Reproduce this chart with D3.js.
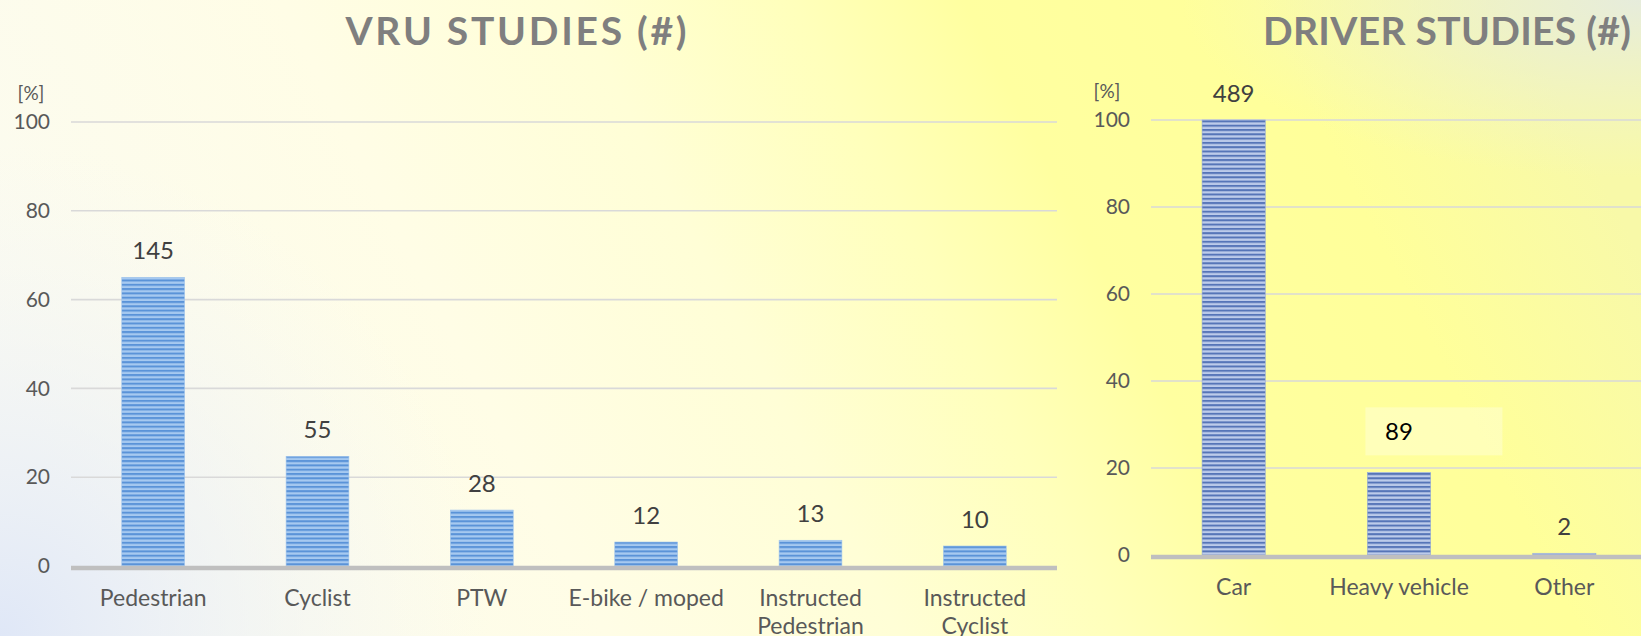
<!DOCTYPE html>
<html>
<head>
<meta charset="utf-8">
<script src="https://cdn.jsdelivr.net/npm/d3@7"></script>
<style>
  html, body { margin: 0; padding: 0; overflow: hidden; }
  svg { display: block; font-family: Lato, "Open Sans", sans-serif; }
</style>
</head>
<body>
<div id="chart"></div>
<script>
// chart values (percent of studies, with the count written above each bar)
const vruCategories = ['Pedestrian', 'Cyclist', 'PTW', 'E-bike / moped', 'Instructed\nPedestrian', 'Instructed\nCyclist']
const vruPercent = [65, 24.7, 12.6, 5.4, 5.8, 4.5]
const vruCounts = [145, 55, 28, 12, 13, 10]

const driverCategories = ['Car', 'Heavy vehicle', 'Other']
const driverPercent = [100, 19, 0.4]
const driverCounts = [489, 89, 2]

const yTicks = [0, 20, 40, 60, 80, 100]

const width = 1641
const height = 636

const svg = d3.select('#chart')
  .append('svg')
    .attr('width', width)
    .attr('height', height)

const defs = svg.append('defs')

// background gradients
const bgLin = defs.append('linearGradient')
    .attr('id', 'bgLin')
    .attr('x1', 0).attr('y1', 0.6).attr('x2', 1).attr('y2', 0.4)
bgLin.selectAll('stop')
  .data([
    ['0%', '#fbfbf1'], ['28%', '#fffde6'], ['45%', '#fffed6'],
    ['58%', '#ffffbb'], ['68%', '#ffffa0'], ['85%', '#ffff9a'], ['100%', '#f8f9a8']
  ])
  .enter().append('stop')
    .attr('offset', d => d[0])
    .attr('stop-color', d => d[1])

const bgBlue = defs.append('radialGradient')
    .attr('id', 'bgBlue')
    .attr('cx', 0).attr('cy', 1).attr('r', 0.3)
    .attr('gradientTransform', 'scale(1, 2.58) translate(0, -0.6124)')
bgBlue.append('stop').attr('offset', '0%').attr('stop-color', '#dfe7f7').attr('stop-opacity', 1)
bgBlue.append('stop').attr('offset', '100%').attr('stop-color', '#f4f6f8').attr('stop-opacity', 0)

const bgCorner = defs.append('radialGradient')
    .attr('id', 'bgCorner')
    .attr('cx', 1).attr('cy', 0).attr('r', 0.28)
bgCorner.append('stop').attr('offset', '0%').attr('stop-color', '#e6ecdc').attr('stop-opacity', 1)
bgCorner.append('stop').attr('offset', '100%').attr('stop-color', '#eef2d0').attr('stop-opacity', 0)

svg.append('rect').attr('width', width).attr('height', height).attr('fill', 'url(#bgLin)')
svg.append('rect').attr('width', width).attr('height', height).attr('fill', 'url(#bgBlue)')
svg.append('rect').attr('width', width).attr('height', height).attr('fill', 'url(#bgCorner)')

// striped bar fills
function stripes(id, dark, light) {
  const p = defs.append('pattern')
      .attr('id', id)
      .attr('patternUnits', 'userSpaceOnUse')
      .attr('width', 8).attr('height', 4.3)
  p.append('rect').attr('width', 8).attr('height', 4.3).attr('fill', light)
  p.append('rect').attr('width', 8).attr('height', 2).attr('fill', dark)
}
stripes('vruStripe', '#5a93d8', '#a6c9f0')
stripes('drvStripe', '#5675b8', '#bccbea')

function drawChart(cfg) {
  const x = d3.scaleBand()
      .domain(cfg.categories)
      .range(cfg.xRange)
      .paddingInner(0.618)
      .paddingOuter(0.309)

  const y = d3.scaleLinear()
      .domain([0, 100])
      .range(cfg.yRange)

  const g = svg.append('g')

  // gridlines
  g.append('g')
    .selectAll('line')
    .data(yTicks.filter(d => d > 0))
    .enter()
    .append('line')
      .attr('x1', cfg.xRange[0])
      .attr('x2', cfg.gridEnd)
      .attr('y1', d => y(d))
      .attr('y2', d => y(d))
      .attr('stroke', '#d9d9d9')
      .attr('stroke-width', 1.6)

  // y axis labels (no axis line, just the numbers)
  const yAxis = d3.axisLeft(y).tickValues(yTicks).tickSize(0).tickPadding(0)
  const ya = g.append('g')
      .attr('transform', `translate(${cfg.tickRight},0)`)
      .call(yAxis)
  ya.select('.domain').remove()
  ya.selectAll('text')
      .attr('fill', '#595959')
      .style('font-size', '21px')
      .style('font-family', 'Lato, sans-serif')

  g.append('text')
    .attr('x', cfg.unitX)
    .attr('y', cfg.yRange[1] - 22)
    .attr('text-anchor', 'middle')
    .attr('fill', '#595959')
    .style('font-size', '19px')
    .text('[%]')

  // bars
  g.append('g')
    .selectAll('rect')
    .data(cfg.values)
    .enter()
    .append('rect')
      .attr('x', (d, i) => x(cfg.categories[i]))
      .attr('y', d => y(d))
      .attr('width', x.bandwidth())
      .attr('height', d => y(0) - y(d))
      .attr('fill', `url(#${cfg.stripe})`)
      .attr('stroke', cfg.edge)
      .attr('stroke-width', 0.6)

  // baseline
  g.append('line')
    .attr('x1', cfg.xRange[0])
    .attr('x2', cfg.gridEnd)
    .attr('y1', y(0) + 2)
    .attr('y2', y(0) + 2)
    .attr('stroke', '#bfbfbf')
    .attr('stroke-width', 4.5)

  // count labels
  g.append('g')
    .selectAll('text')
    .data(cfg.counts)
    .enter()
    .append('text')
      .attr('x', (d, i) => x(cfg.categories[i]) + x.bandwidth() / 2)
      .attr('y', (d, i) => y(cfg.values[i]) - 18 - (cfg.boxed === i ? 14 : 0))
      .attr('text-anchor', 'middle')
      .attr('fill', (d, i) => cfg.boxed === i ? '#000' : '#404040')
      .style('font-size', '24px')
      .text(d => d)

  // category labels (multi-line where needed)
  const cat = g.append('g')
    .selectAll('text')
    .data(cfg.categories)
    .enter()
    .append('text')
      .attr('x', d => x(d) + x.bandwidth() / 2)
      .attr('y', y(0) + 40)
      .attr('text-anchor', 'middle')
      .attr('fill', '#595959')
      .style('font-size', '23px')
  cat.selectAll('tspan')
    .data(d => d.split('\n'))
    .enter()
    .append('tspan')
      .attr('x', function() { return d3.select(this.parentNode).attr('x') })
      .attr('dy', (d, i) => i === 0 ? 0 : 28)
      .text(d => d)

  // title
  svg.append('text')
    .attr('x', cfg.titleX)
    .attr('y', 45)
    .attr('text-anchor', 'middle')
    .attr('fill', '#7f7f7f')
    .style('font-size', '39px')
    .style('font-weight', 'bold')
    .style('letter-spacing', '4px')
    .attr('textLength', cfg.titleWidth)
    .attr('lengthAdjust', 'spacing')
    .text(cfg.title)

  return { x, y, g }
}

drawChart({
  title: 'VRU STUDIES (#)', titleX: 518, titleWidth: 345,
  categories: vruCategories, values: vruPercent, counts: vruCounts,
  xRange: [71, 1057], gridEnd: 1057, yRange: [566, 122],
  tickRight: 50, unitX: 31, stripe: 'vruStripe', edge: '#9cc2ec'
})

const drv = drawChart({
  title: 'DRIVER STUDIES (#)', titleX: 1449, titleWidth: 372,
  categories: driverCategories, values: driverPercent, counts: driverCounts,
  xRange: [1151, 1647], gridEnd: 1641, yRange: [555, 120],
  tickRight: 1130, unitX: 1107, stripe: 'drvStripe', edge: '#8fa6d6', boxed: 1
})

// faint highlight box behind the "89" label
drv.g.insert('rect', ':first-child')
  .attr('x', drv.x('Heavy vehicle') - 2)
  .attr('y', drv.y(driverPercent[1]) - 65)
  .attr('width', 137)
  .attr('height', 48)
  .attr('fill', '#ffffff')
  .attr('opacity', 0.3)
</script>
</body>
</html>
